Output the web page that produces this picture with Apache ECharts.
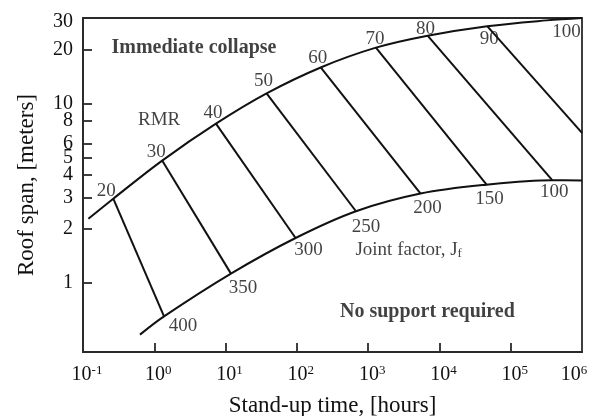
<!DOCTYPE html>
<html>
<head>
<meta charset="utf-8">
<script src="https://cdn.jsdelivr.net/npm/echarts@6/dist/echarts.min.js"></script>
<style>html,body{margin:0;padding:0;background:#fff;}#c{width:597px;height:416px;}</style>
</head>
<body>
<div id="c"></div>
<script>
// ---- data ----
// RMR curve (upper boundary): labelled points
const rmrLabels = [20, 30, 40, 50, 60, 70, 80, 90];
const rmrX = [0.266, 1.29, 7.33, 37.6, 216, 1285, 6825, 46800];
const rmrY = [2.95, 4.81, 7.73, 11.4, 15.9, 20.5, 23.9, 27.0];
// unlabelled ends of the RMR curve
const rmrStart = [0.119, 2.28];
const rmrTailX = [318000, 1000000];
const rmrTailY = [29.1, 30];

// Joint factor curve (lower boundary): labelled points
const jfLabels = [400, 350, 300, 250, 200, 150, 100];
const jfX = [1.37, 11.9, 96, 675, 5440, 45900, 382000];
const jfY = [0.651, 1.127, 1.78, 2.51, 3.15, 3.53, 3.74];
const jfStart = [0.63, 0.515];
const jfEnd = [1000000, 3.73];

// the RMR 90 line ends on the right frame
const rmr90End = [1000000, 6.87];

// axis ticks
const xTicks = [0.1, 1, 10, 100, 1000, 10000, 100000, 1000000];
const yTicks = [1, 2, 3, 4, 5, 6, 8, 10, 20, 30];

// annotations (text, x, y in data units)
const notes = [
  {text: 'Immediate collapse', x: 3.6, y: 20.5, bold: true},
  {text: 'RMR', x: 1.17, y: 8.07},
  {text: '100', x: 608000, y: 25.1},
  {text: 'No support required', x: 6790, y: 0.689, bold: true}
];
const jfNote = {x: 653, y: 1.53};

// ---- layout (pixel offsets for labels) ----
const rmrLabelOffsets = [[-7,-8],[-6,-9],[-3,-11],[-3,-12],[-3,-9],[-1,-9],[-2,-7],[2,13]];
const jfLabelOffsets = [[19,10],[12,14],[13,12],[10,16],[7,14],[3,14],[2,12]];

const INK = '#111';
const AXIS = '#2a2a2a';
const FONT = '"Liberation Serif", "DejaVu Serif", serif';
const LW = 2;

const upperCurve = [rmrStart].concat(rmrX.map((x, i) => [x, rmrY[i]]))
  .concat(rmrTailX.map((x, i) => [x, rmrTailY[i]]));
const lowerCurve = [jfStart].concat(jfX.map((x, i) => [x, jfY[i]])).concat([jfEnd]);

const connectors = rmrX.map((x, i) => {
  const end = i < jfX.length ? [jfX[i], jfY[i]] : rmr90End;
  return {
    type: 'line', silent: true, symbol: 'none', animation: false,
    lineStyle: {color: INK, width: LW},
    data: [[x, rmrY[i]], end]
  };
});

const series = [
  {type: 'line', smooth: 0.35, symbol: 'none', animation: false,
   lineStyle: {color: INK, width: LW}, data: upperCurve},
  {type: 'line', smooth: 0.35, symbol: 'none', animation: false,
   lineStyle: {color: INK, width: LW}, data: lowerCurve}
].concat(connectors).concat([
  {type: 'scatter', symbolSize: 1, animation: false, silent: true,
   itemStyle: {color: 'rgba(0,0,0,0)'},
   data: rmrX.map((x, i) => ({
     value: [x, rmrY[i]],
     label: {show: true, formatter: String(rmrLabels[i]), position: 'inside',
             offset: rmrLabelOffsets[i], color: INK, fontFamily: FONT, fontSize: 19}
   }))},
  {type: 'scatter', symbolSize: 1, animation: false, silent: true,
   itemStyle: {color: 'rgba(0,0,0,0)'},
   data: jfX.map((x, i) => ({
     value: [x, jfY[i]],
     label: {show: true, formatter: String(jfLabels[i]), position: 'inside',
             offset: jfLabelOffsets[i], color: INK, fontFamily: FONT, fontSize: 19}
   }))},
  {type: 'scatter', symbolSize: 1, animation: false, silent: true,
   itemStyle: {color: 'rgba(0,0,0,0)'},
   data: notes.map(n => ({
     value: [n.x, n.y],
     label: {show: true, formatter: n.text, position: 'inside', color: INK,
             fontFamily: FONT, fontSize: n.bold ? 20 : 19,
             fontWeight: n.bold ? 'bold' : 'normal'}
   })).concat([{
     value: [jfNote.x, jfNote.y],
     label: {show: true, position: 'right', distance: 0, color: INK,
             formatter: '{m|Joint factor, J}{s|f}',
             rich: {m: {fontFamily: FONT, fontSize: 19, color: INK},
                    s: {fontFamily: FONT, fontSize: 13, color: INK, padding: [8, 0, 0, 0]}}}
   }])}
]);

const option = {
  backgroundColor: '#fff',
  animation: false,
  grid: {left: 83, right: 15, top: 18, bottom: 64, show: true, outerBoundsMode: 'none',
         containLabel: false,
         borderColor: AXIS, borderWidth: 1.8, backgroundColor: 'transparent'},
  xAxis: {
    type: 'log', logBase: 10, min: 0.1, max: 1000000,
    name: 'Stand-up time, [hours]', nameLocation: 'middle', nameGap: 42,
    nameTextStyle: {fontFamily: FONT, fontSize: 23, color: INK},
    axisLine: {show: true, lineStyle: {color: AXIS, width: 1.8}},
    axisTick: {show: true, inside: true, length: 9, customValues: xTicks.slice(1, -1),
               lineStyle: {color: AXIS, width: 1.8}},
    splitLine: {show: false},
    axisLabel: {
      customValues: xTicks, margin: 12, color: INK,
      formatter: v => {
        const e = Math.round(Math.log10(v));
        if (v >= xTicks[xTicks.length - 1]) return '{b|10}{s|' + e + '}{sr| }';
        return '{sp| }{b|10}{s|' + e + '}';
      },
      rich: {
        sp: {width: 8, fontSize: 10},
        sr: {width: 16, fontSize: 10},
        b: {fontFamily: FONT, fontSize: 20, color: INK},
        s: {fontFamily: FONT, fontSize: 13, color: INK, padding: [0, 0, 9, 0]}
      }
    }
  },
  yAxis: {
    type: 'log', logBase: 10, min: 0.412, max: 30,
    name: 'Roof span, [meters]', nameLocation: 'middle', nameGap: 45, nameRotate: 90,
    nameTextStyle: {fontFamily: FONT, fontSize: 23, color: INK},
    axisLine: {show: true, lineStyle: {color: AXIS, width: 1.8}},
    axisTick: {show: true, inside: true, length: 9, customValues: yTicks,
               lineStyle: {color: AXIS, width: 1.8}},
    splitLine: {show: false},
    axisLabel: {customValues: yTicks, margin: 10, color: INK,
                fontFamily: FONT, fontSize: 20,
                formatter: v => v >= yTicks[yTicks.length - 1] ? '{t|' + v + '}' : '{n|' + v + '}',
                rich: {
                  t: {fontFamily: FONT, fontSize: 20, color: INK, padding: [7, 0, 0, 0]},
                  n: {fontFamily: FONT, fontSize: 20, color: INK}
                }}
  },
  series: series
};

const chart = echarts.init(document.getElementById('c'), null, {renderer: 'canvas'});
chart.setOption(option);
</script>
</body>
</html>
